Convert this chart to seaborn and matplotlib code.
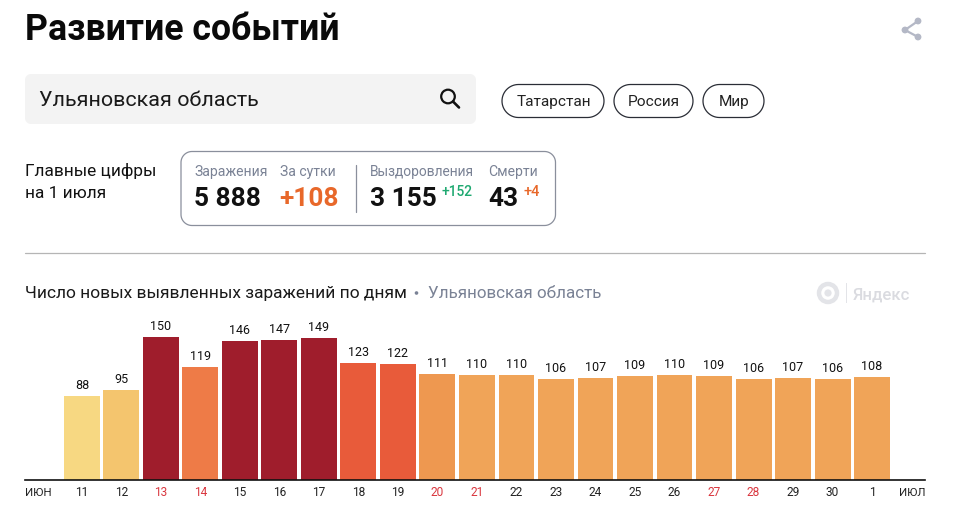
import matplotlib
matplotlib.use('Agg')
import matplotlib.pyplot as plt
from matplotlib.patches import Circle, Polygon, Rectangle
from matplotlib.lines import Line2D
import numpy as np
import pandas as pd
import seaborn as sns

days = ['11', '12', '13', '14', '15', '16', '17', '18', '19', '20', '21',
        '22', '23', '24', '25', '26', '27', '28', '29', '30', '1']
cases = [88, 95, 150, 119, 146, 147, 149, 123, 122, 111, 110,
         110, 106, 107, 109, 110, 109, 106, 107, 106, 108]
weekend_days = ['13', '14', '20', '21', '27', '28']
region_buttons = ['Татарстан', 'Россия', 'Мир']


def bar_color(value):
    if value >= 125:
        return '#9F1D2C'
    if value >= 120:
        return '#E85B3A'
    if value >= 115:
        return '#EE7B47'
    if value >= 111:
        return '#EE9850'
    if value >= 100:
        return '#F0A458'
    if value >= 90:
        return '#F4C56E'
    return '#F7D882'


sns.set_theme(style='white')
plt.rcParams['font.family'] = ['Roboto', 'DejaVu Sans']

fig = plt.figure(figsize=(9.6, 5.11), dpi=100)

# chart axes, pixel box 25..925 x 320..480
W, H = 960, 511
ax = fig.add_axes([25 / W, 1 - 480 / H, 900 / W, 160 / H])
df = pd.DataFrame({'day': days, 'cases': cases})
sns.barplot(data=df, x='day', y='cases', hue='day', order=days, hue_order=days,
            palette=[bar_color(v) for v in cases], width=0.91, legend=False,
            saturation=1, ax=ax, linewidth=0)
for c in ax.containers:
    ax.bar_label(c, padding=2.8, fontsize=9, color='#111111')
ax.set_xlim(-1.44, 21.34)
ax.set_ylim(0, 168)
ax.set_xlabel('')
ax.set_ylabel('')
ax.set_yticks([])
ax.patch.set_alpha(0)
sns.despine(ax=ax, left=True)
ax.spines['bottom'].set_color('#111111')
ax.spines['bottom'].set_linewidth(1.2)
ax.tick_params(axis='x', length=0, pad=4.5, labelsize=8.6)
for lab in ax.get_xticklabels():
    lab.set_color('#D9363E' if lab.get_text() in weekend_days else '#222222')

# overlay in pixel coordinates for the page furniture
ov = fig.add_axes([0, 0, 1, 1], zorder=-1)
ov.set_xlim(0, W)
ov.set_ylim(H, 0)
ov.axis('off')


def px_text(x, y, s, size, color='#111111', weight='normal', ha='left', **kw):
    ov.text(x, y, s, fontsize=size * 0.72, color=color, fontweight=weight,
            ha=ha, va='baseline', **kw)


def rounded(x0, y0, x1, y1, r, fc='none', ec='none', lw=1.0):
    # true circular corners, FancyBboxPatch corners come out too square
    t = np.linspace(0, np.pi / 2, 16)
    corners = [(x1 - r, y1 - r, t), (x0 + r, y1 - r, t + np.pi / 2),
               (x0 + r, y0 + r, t + np.pi), (x1 - r, y0 + r, t + 3 * np.pi / 2)]
    pts = np.vstack([np.c_[cx + r * np.cos(a), cy + r * np.sin(a)] for cx, cy, a in corners])
    ov.add_patch(Polygon(pts, closed=True, fc=fc, ec=ec, lw=lw))


GREY = '#7A8295'
ORANGE = '#E8682A'

px_text(25, 40, 'Развитие событий', 35.6, color='#0A0A0A', weight='bold')

# share icon
share = [(918, 21), (905, 30), (918, 37)]
ov.add_line(Line2D([918, 905, 918], [21, 30, 37], color='#B4B8C6', lw=1.6))
for p in share:
    ov.add_patch(Circle(p, 3.4, fc='#B4B8C6', ec='none'))

# search box
rounded(25, 74, 476, 124, 6, fc='#F3F3F3')
px_text(39, 106, 'Ульяновская область', 21.5, color='#1A1A1A')
ov.add_patch(Circle((448, 96.5), 6.8, fc='none', ec='#111111', lw=1.6))
ov.add_line(Line2D([453, 459], [101.5, 107.5], color='#111111', lw=1.9))

# region buttons
pill_edges = [(502, 604), (614, 693), (703, 764)]
for name, (x0, x1) in zip(region_buttons, pill_edges):
    rounded(x0, 84.5, x1, 117.5, 16.5, fc='white', ec='#2A2D36', lw=0.9)
    px_text((x0 + x1) / 2 + 0.5, 106, name, 15.4, color='#222222', ha='center')

# headline numbers
px_text(25, 176, 'Главные цифры', 17.3)
px_text(25, 198, 'на 1 июля', 17.3)
rounded(181, 151.5, 555.5, 225.5, 11, fc='white', ec='#8A8F9C', lw=0.9)
ov.add_line(Line2D([355.5, 355.5], [165, 212], color='#8A8F9C', lw=0.9))

px_text(194.5, 176, 'Заражения', 14, color=GREY)
px_text(280, 176, 'За сутки', 14, color=GREY)
px_text(370, 176, 'Выздоровления', 13.7, color=GREY)
px_text(488, 176, 'Смерти', 14, color=GREY)

px_text(194.5, 206, '5 888', 26.3, weight='bold')
px_text(279.5, 206, '+108', 26.3, color=ORANGE, weight='bold')
px_text(370, 206, '3 155', 26.3, weight='bold')
px_text(442, 196, '+152', 13.8, color='#1FA971', weight='medium')
px_text(488, 206, '43', 26.3, weight='bold')
px_text(523, 196, '+4', 14.5, color=ORANGE, weight='medium')

ov.add_line(Line2D([25, 925], [253.5, 253.5], color='#B5B5B5', lw=0.9))

# chart heading
px_text(25, 298, 'Число новых выявленных заражений по дням', 17.4, color='#1A1A1A')
ov.add_patch(Circle((416.5, 293), 1.8, fc=GREY, ec='none'))
px_text(428, 298, 'Ульяновская область', 17.05, color=GREY)

# watermark, no condensed face installed so the size is kept down to fit the width
ov.add_patch(Circle((828, 293), 9, fc='none', ec='#E3E4E8', lw=3.2))
ov.add_patch(Circle((828, 293), 3.6, fc='#E3E4E8', ec='none'))
ov.add_patch(Rectangle((846, 283), 0.9, 20, fc='#E3E4E8', ec='none'))
px_text(853, 299.5, 'Яндекс', 16.8, color='#DADBE0', weight='medium')

# month labels at both ends of the axis
px_text(25, 495.5, 'ИЮН', 11.5, color='#222222')
px_text(925, 495.5, 'ИЮЛ', 11.5, color='#222222', ha='right')

fig.savefig('out.png', dpi=100, facecolor='white')
